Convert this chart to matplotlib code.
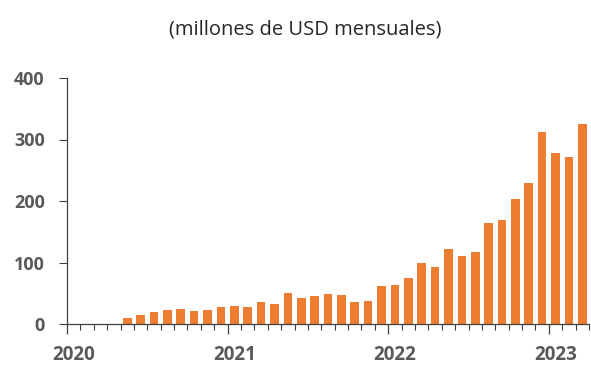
import matplotlib
matplotlib.use("Agg")
import matplotlib.pyplot as plt
import numpy as np

# monthly values, Jan 2020 .. Mar 2023 (millones de USD)
months = [f"{y}-{m:02d}" for y in (2020, 2021, 2022) for m in range(1, 13)] + ["2023-01", "2023-02", "2023-03"]
values = [0, 0, 0, 0, 10, 14, 19, 22, 25, 21, 23, 28,
          30, 27, 35, 33, 50, 43, 46, 49, 47, 36, 38, 62,
          64, 75, 99, 92, 122, 111, 117, 164, 169, 204, 229, 312,
          278, 271, 325]
years = ["2020", "2021", "2022", "2023"]
yticks = [0, 100, 200, 300, 400]

plt.rcParams['font.family'] = ['Open Sans', 'DejaVu Sans']

fig = plt.figure(figsize=(5.91, 3.69), dpi=100)
ax = fig.add_axes([67 / 591, 45 / 369, 522 / 591, 246 / 369])

x = np.arange(len(months))
ax.bar(x, values, width=0.64, color="#ED7D31")

ax.set_xlim(-0.5, len(months) - 0.5)
ax.set_ylim(0, 400)
ax.set_yticks(yticks)
ax.set_yticklabels([str(v) for v in yticks], fontsize=13, fontweight="bold", color="#595959")
ax.tick_params(axis="y", length=6, width=0.8, pad=10, color="#404040")

# month boundaries as ticks, year boundaries longer
bounds = np.arange(len(months) + 1) - 0.5
year_bounds = [b for b in bounds if (b + 0.5) % 12 == 0]
ax.set_xticks(year_bounds)
ax.set_xticklabels([])
ax.set_xticks([b for b in bounds if (b + 0.5) % 12 != 0], minor=True)
ax.tick_params(axis="x", which="major", length=7, width=0.9, color="#404040")
ax.tick_params(axis="x", which="minor", length=4, width=0.8, color="#404040")

for i, yr in enumerate(years):
    ax.text(i * 12, -0.124, yr, transform=ax.get_xaxis_transform(), ha="center", va="center",
            fontsize=13.5, fontweight="bold", color="#595959")

for s in ("top", "right"):
    ax.spines[s].set_visible(False)
for s in ("left", "bottom"):
    ax.spines[s].set_linewidth(0.9)
    ax.spines[s].set_color("#404040")

fig.text(305 / 591, 1 - 30 / 369, "(millones de USD mensuales)", ha="center", va="center",
         fontsize=14.5, color="#262626")

fig.savefig("out.png", dpi=100)
